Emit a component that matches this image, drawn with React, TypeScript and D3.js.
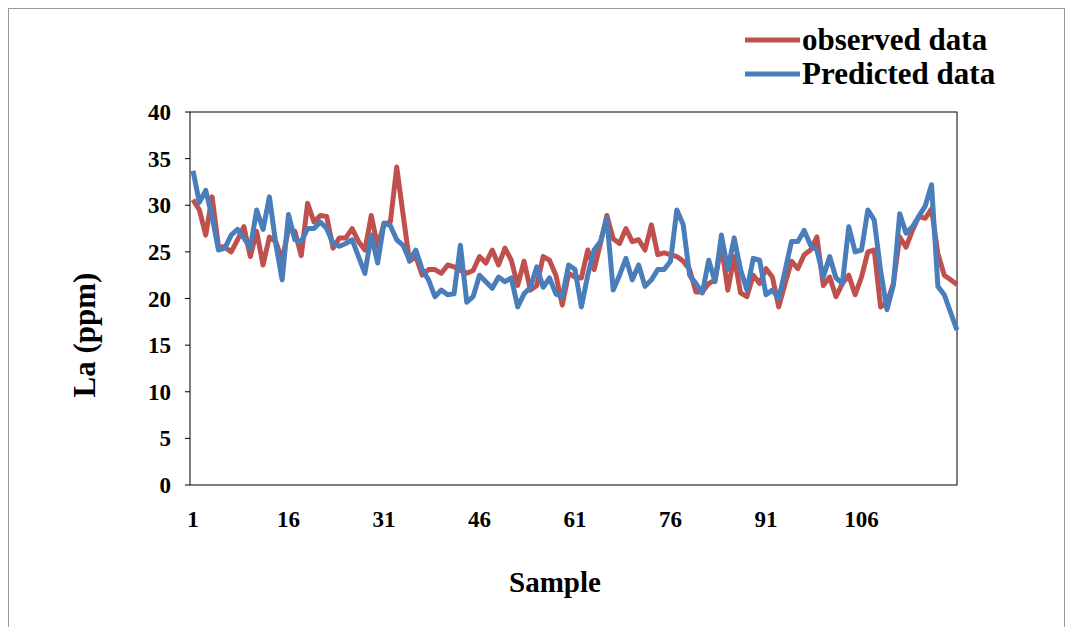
import React from "react";
import * as d3 from "d3";

const observed = [30.6,29.5,26.8,30.9,25.6,25.5,25.0,26.3,27.7,24.5,27.2,23.6,26.6,26.1,24.1,27.5,27.2,24.6,30.2,28.2,28.9,28.8,25.4,26.5,26.5,27.5,26.1,25.2,28.9,25.6,28.0,
28.2,34.1,29,24.0,24.5,22.5,23.1,23.1,22.7,23.6,23.4,23.0,22.7,23.0,24.5,23.8,25.2,23.6,25.4,24.1,21.4,24.0,20.9,21.4,24.5,24.1,22.5,19.3,22.7,22.3,22.2,
25.2,23.1,25.9,28.9,26.4,25.9,27.5,26.1,26.3,25.2,27.9,24.7,24.9,24.7,24.5,24.0,23.1,20.7,20.7,21.6,22.0,25.7,20.9,24.5,20.6,20.2,22.5,
21.6,23.2,22.3,19.1,21.6,24.0,23.2,24.7,25.2,26.6,21.4,22.3,20.2,21.6,22.5,20.4,22.3,25.0,25.2,19.1,19.5,21.6,26.6,25.5,27.3,28.8,28.6,29.6,24.8,22.5,22.0,21.5];
const predicted = [33.7,30.3,31.6,28.8,25.2,25.4,26.8,27.4,26.5,25.4,29.5,27.4,30.9,25.9,22.0,29.0,26.3,26.1,27.5,27.5,28.2,27.5,25.9,25.6,25.9,26.3,24.5,22.7,26.8,23.8,28.1,
27.8,26.3,25.7,24.1,25.2,23.1,22.0,20.2,20.9,20.4,20.5,25.7,19.6,20.2,22.5,21.8,21.1,22.3,21.8,22.2,19.1,20.5,21.2,23.4,21.2,22.2,20.5,20.2,23.6,
23.1,19.1,22.5,25.2,26.1,28.6,20.9,22.5,24.3,22.0,23.6,21.3,22.0,23.1,23.1,24.0,29.5,27.9,22.5,21.6,20.6,24.1,21.8,26.8,23.1,26.5,23.1,20.9,24.3,
24.1,20.4,20.9,20.0,23.0,26.1,26.1,27.3,25.7,25.2,22.3,24.5,22.2,21.6,27.7,25.0,25.2,29.5,28.4,23.0,18.8,21.4,29.1,27.0,27.7,28.8,29.9,32.2,21.3,20.4,18.5,16.6];
const yTicks = [0,5,10,15,20,25,30,35,40];
const xTickLabels = [1,16,31,46,61,76,91,106];
const series = [
  { name: "observed data", color: "#c0504d", values: observed },
  { name: "Predicted data", color: "#4a7ebb", values: predicted },
];

export default function App() {
  const W = 1072, H = 627;
  const L = 193, R = 957, T = 112, B = 485;
  const n = observed.length;
  const x = d3.scaleLinear().domain([1, n]).range([L, R]);
  const y = d3.scaleLinear().domain([0, 40]).range([B, T]);
  const line = d3.line<number>().x((_, i) => x(i + 1)).y((d) => y(d));
  const font = "'Liberation Serif', 'Times New Roman', serif";
  return (
    <svg width={W} height={H} style={{ position: "absolute", left: 0, top: 0 }} fontFamily={font} fontWeight="bold">
      <rect x={0} y={0} width={W} height={H} fill="#fff" />
      <line x1={8.5} y1={8} x2={8.5} y2={627} stroke="#999" />
      <line x1={8} y1={8.5} x2={1064} y2={8.5} stroke="#999" />
      <line x1={1064.5} y1={8} x2={1064.5} y2={627} stroke="#999" />
      <rect x={L - 3} y={T} width={R - L + 3} height={B - T} fill="none" stroke="#000" strokeWidth={1} />
      {yTicks.map((t) => (
        <g key={t}>
          <line x1={L - 8} x2={L - 3} y1={y(t)} y2={y(t)} stroke="#000" />
          <text x={171} y={y(t) + 8} textAnchor="end" fontSize={23}>{t}</text>
        </g>
      ))}
      {xTickLabels.map((t) => (
        <text key={t} x={x(t)} y={B + 42} textAnchor="middle" fontSize={23}>{t}</text>
      ))}
      {series.map((s) => (
        <path key={s.name} d={line(s.values) || ""} fill="none" stroke={s.color} strokeWidth={5} strokeLinejoin="round" />
      ))}
      <text x={555} y={592} textAnchor="middle" fontSize={29}>Sample</text>
      <text transform="translate(95,335) rotate(-90)" textAnchor="middle" fontSize={31}>La (ppm)</text>
      {series.map((s, i) => (
        <g key={s.name}>
          <line x1={745} x2={800} y1={40 + i * 34} y2={40 + i * 34} stroke={s.color} strokeWidth={5} />
          <text x={802} y={50 + i * 34} fontSize={31}>{s.name}</text>
        </g>
      ))}
    </svg>
  );
}
